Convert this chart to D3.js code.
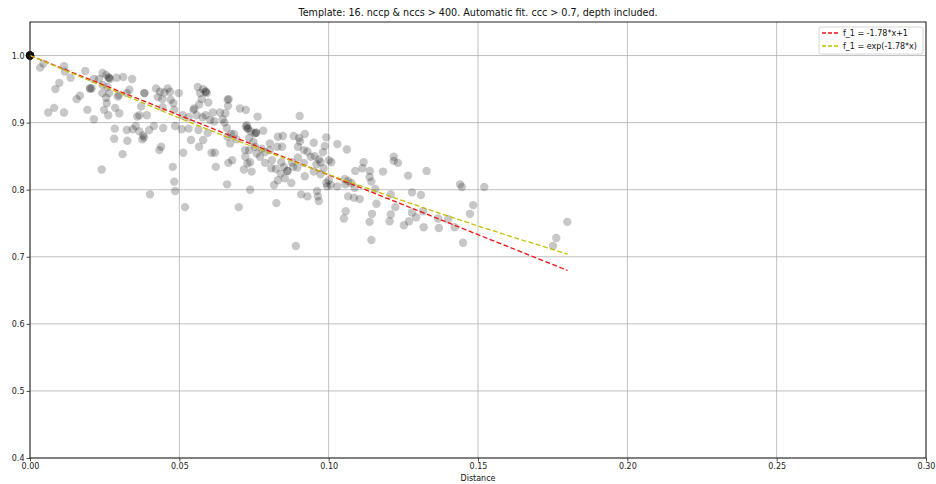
<!DOCTYPE html>
<html>
<head>
<meta charset="utf-8">
<script src="https://cdn.jsdelivr.net/npm/d3@7"></script>
<style>
  body { margin: 0; background: #fff; }
  svg { font-family: "DejaVu Sans", sans-serif; }
  .grid line { stroke: #b0b0b0; stroke-width: 0.8; }
  .tick text { fill: #222; }
</style>
</head>
<body>
<svg id="chart" width="936" height="484"></svg>
<script>
// title / labels
var title = "Template: 16. nccp & nccs > 400. Automatic fit. ccc > 0.7, depth included.";
var xLabel = "Distance";
var xTicks = [0, 0.05, 0.10, 0.15, 0.20, 0.25, 0.30];
var yTicks = [0.4, 0.5, 0.6, 0.7, 0.8, 0.9, 1.0];

// scatter points [distance, value]
var samples = [
  [0,1],[0,1],[0,1],[0,1],[0,1],[0,1],[0,1],[0,1],[0,1],[0,1],[0,1],[0,1],
  [0.0034,0.982],[0.0045,0.988],[0.0114,0.984],[0.0117,0.976],[0.0136,0.967],[0.0185,0.977],
  [0.0214,0.965],[0.0231,0.965],[0.0243,0.974],[0.0255,0.971],[0.0264,0.967],[0.0264,0.967],
  [0.0268,0.965],[0.029,0.967],[0.0312,0.968],[0.0342,0.965],[0.0085,0.950],[0.0098,0.959],
  [0.0061,0.915],[0.0081,0.922],[0.0114,0.915],[0.0167,0.940],[0.0156,0.935],[0.0192,0.919],
  [0.0214,0.905],[0.0201,0.951],[0.0201,0.951],[0.0207,0.951],[0.0243,0.956],[0.0259,0.953],
  [0.0242,0.944],[0.0265,0.944],[0.0255,0.937],[0.0257,0.929],[0.0248,0.919],[0.0262,0.911],
  [0.0285,0.922],[0.0299,0.914],[0.0294,0.939],[0.0298,0.941],[0.0333,0.949],[0.0324,0.944],
  [0.0383,0.944],[0.0383,0.944],[0.0372,0.924],[0.0359,0.909],[0.0366,0.911],[0.0391,0.911],
  [0.0354,0.895],[0.0344,0.890],[0.0324,0.889],[0.0366,0.887],[0.0379,0.881],[0.0376,0.875],
  [0.0382,0.878],[0.0399,0.889],[0.0415,0.895],[0.0284,0.891],[0.0282,0.876],[0.0326,0.873],
  [0.031,0.853],[0.024,0.830],[0.0422,0.951],[0.0428,0.938],[0.0435,0.946],[0.0443,0.935],
  [0.0461,0.951],[0.0444,0.923],[0.0439,0.864],[0.0446,0.892],[0.0433,0.859],[0.045,0.945],
  [0.0469,0.946],[0.0471,0.934],[0.0498,0.944],[0.0483,0.919],[0.048,0.929],[0.0486,0.895],
  [0.0508,0.890],[0.0478,0.834],[0.0483,0.812],[0.0486,0.798],[0.0513,0.855],[0.0511,0.911],
  [0.0531,0.891],[0.0531,0.908],[0.0547,0.919],[0.0558,0.911],[0.0539,0.874],[0.0564,0.889],
  [0.0566,0.864],[0.058,0.874],[0.055,0.921],[0.0562,0.953],[0.058,0.950],[0.0592,0.944],
  [0.0575,0.935],[0.0569,0.944],[0.0566,0.927],[0.0588,0.946],[0.0588,0.946],[0.0597,0.930],
  [0.0578,0.908],[0.0588,0.911],[0.0603,0.904],[0.0612,0.915],[0.0617,0.902],[0.0595,0.885],
  [0.0608,0.855],[0.0619,0.855],[0.0622,0.834],[0.0636,0.915],[0.0645,0.905],[0.0654,0.914],
  [0.0651,0.900],[0.0659,0.892],[0.0661,0.879],[0.0662,0.934],[0.0663,0.925],[0.0665,0.935],
  [0.0673,0.883],[0.067,0.869],[0.0677,0.844],[0.066,0.808],[0.0664,0.840],[0.0683,0.883],
  [0.0692,0.875],[0.0703,0.921],[0.0723,0.919],[0.0723,0.894],[0.0726,0.896],[0.0729,0.891],
  [0.0729,0.891],[0.0739,0.887],[0.0752,0.884],[0.0757,0.885],[0.0757,0.885],[0.0762,0.909],
  [0.0781,0.888],[0.072,0.859],[0.0721,0.849],[0.0734,0.859],[0.0737,0.841],[0.0742,0.827],
  [0.0728,0.839],[0.0716,0.830],[0.0748,0.871],[0.0734,0.877],[0.0753,0.864],[0.0759,0.854],
  [0.077,0.849],[0.0776,0.861],[0.0787,0.856],[0.0787,0.840],[0.0699,0.774],[0.0519,0.774],
  [0.0402,0.793],[0.0737,0.800],
  [0.0903,0.910],[0.083,0.879],[0.0847,0.880],[0.0883,0.880],[0.0901,0.877],[0.092,0.883],
  [0.0904,0.872],[0.0803,0.869],[0.0828,0.864],[0.0844,0.864],[0.0803,0.859],[0.0897,0.864],
  [0.0917,0.859],[0.0929,0.857],[0.095,0.870],[0.0992,0.878],[0.0987,0.865],[0.0981,0.856],
  [0.094,0.849],[0.0953,0.850],[0.0967,0.845],[0.0959,0.838],[0.0973,0.841],[0.1001,0.844],
  [0.1009,0.841],[0.0983,0.832],[0.1029,0.868],[0.1061,0.860],[0.1117,0.841],[0.1113,0.832],
  [0.1089,0.828],[0.1138,0.828],[0.1182,0.827],[0.081,0.844],[0.0841,0.841],[0.0877,0.841],
  [0.0897,0.848],[0.0917,0.840],[0.0808,0.832],[0.0823,0.831],[0.085,0.834],[0.0862,0.828],
  [0.0862,0.828],[0.0881,0.834],[0.0895,0.833],[0.0839,0.824],[0.083,0.814],[0.0817,0.807],
  [0.0853,0.817],[0.0875,0.810],[0.092,0.820],[0.095,0.827],[0.0973,0.823],[0.0992,0.810],
  [0.0995,0.805],[0.1007,0.807],[0.1029,0.805],[0.1,0.814],[0.1054,0.816],[0.1065,0.813],
  [0.1076,0.810],[0.1056,0.808],[0.1087,0.803],[0.1137,0.819],[0.1143,0.812],[0.1156,0.801],
  [0.1065,0.790],[0.1085,0.788],[0.1104,0.786],[0.116,0.779],[0.0908,0.793],[0.0929,0.790],
  [0.0961,0.798],[0.0964,0.790],[0.0967,0.783],[0.0825,0.780],[0.1057,0.768],[0.1051,0.757],
  [0.1145,0.764],[0.1137,0.752],[0.1143,0.725],[0.089,0.716],
  [0.1218,0.849],[0.1218,0.843],[0.1232,0.840],[0.1266,0.821],[0.1328,0.828],[0.1208,0.793],
  [0.1279,0.796],[0.1309,0.792],[0.144,0.808],[0.1446,0.804],[0.1521,0.804],[0.1223,0.774],
  [0.1208,0.763],[0.1204,0.753],[0.1279,0.766],[0.1293,0.759],[0.1269,0.753],[0.1252,0.747],
  [0.1316,0.768],[0.1366,0.757],[0.14,0.756],[0.1318,0.744],[0.1369,0.743],[0.1422,0.744],
  [0.1484,0.777],[0.1473,0.764],[0.145,0.721],[0.1799,0.752],[0.1762,0.728],[0.1751,0.716]
];

// fitted lines, end points / samples
var linFit = [[0, 1.0], [0.18, 0.6796]];
var expFit = [[0, 1.0], [0.03, 0.944], [0.06, 0.889], [0.09, 0.839], [0.12, 0.791], [0.15, 0.746], [0.18, 0.704]];
var legendLabels = ["f_1 = -1.78*x+1", "f_1 = exp(-1.78*x)"];
var legendColors = ["#f01010", "#c4c000"];

var svg = d3.select("#chart");
var padL = 30, padR = 926, padT = 22, padB = 458;

var x = d3.scaleLinear().domain([0, 0.3]).range([padL, padR]);
var y = d3.scaleLinear().domain([0.4, 1.05]).range([padB, padT]);

// grid
var grid = svg.append("g").attr("class", "grid");
grid.selectAll(".gx").data(xTicks).enter().append("line")
  .attr("x1", d => x(d)).attr("x2", d => x(d)).attr("y1", padT).attr("y2", padB);
grid.selectAll(".gy").data(yTicks).enter().append("line")
  .attr("x1", padL).attr("x2", padR).attr("y1", d => y(d)).attr("y2", d => y(d));

// points
svg.append("g").selectAll("circle").data(samples).enter().append("circle")
  .attr("cx", d => x(d[0])).attr("cy", d => y(d[1]))
  .attr("r", 4.2)
  .attr("fill", "#000").attr("fill-opacity", 0.22);

// fit lines
var line = d3.line().x(d => x(d[0])).y(d => y(d[1]));
svg.append("path").datum(linFit).attr("d", line)
  .attr("fill", "none").attr("stroke", legendColors[0]).attr("stroke-width", 1.3)
  .attr("stroke-dasharray", "5,2.5");
svg.append("path").datum(expFit).attr("d", d3.line().curve(d3.curveMonotoneX).x(d => x(d[0])).y(d => y(d[1])))
  .attr("fill", "none").attr("stroke", legendColors[1]).attr("stroke-width", 1.3)
  .attr("stroke-dasharray", "5,2.5");

// axes
var xAxis = d3.axisBottom(x).tickValues(xTicks).tickFormat(d3.format(".2f")).tickSize(3.5).tickPadding(2);
var yAxis = d3.axisLeft(y).tickValues(yTicks).tickFormat(d3.format(".1f")).tickSize(3.5).tickPadding(2);
var gx = svg.append("g").attr("transform", "translate(0," + padB + ")").call(xAxis);
var gy = svg.append("g").attr("transform", "translate(" + padL + ",0)").call(yAxis);
[gx, gy].forEach(function (g) {
  g.select(".domain").remove();
  g.selectAll("text").attr("font-size", 8).attr("font-family", "DejaVu Sans");
  g.selectAll("line").attr("stroke", "#222").attr("stroke-width", 0.8);
});

// frame
svg.append("rect").attr("x", padL).attr("y", padT)
  .attr("width", padR - padL).attr("height", padB - padT)
  .attr("fill", "none").attr("stroke", "#222").attr("stroke-width", 1);

// title and axis label
svg.append("text").attr("x", (padL + padR) / 2).attr("y", 16)
  .attr("text-anchor", "middle").attr("font-size", 9.6).attr("fill", "#111").text(title);
svg.append("text").attr("x", (padL + padR) / 2).attr("y", 481)
  .attr("text-anchor", "middle").attr("font-size", 8).attr("fill", "#111").text(xLabel);

// legend
var lg = svg.append("g").attr("transform", "translate(819,27)");
lg.append("rect").attr("width", 104).attr("height", 27).attr("rx", 2)
  .attr("fill", "#fff").attr("fill-opacity", 0.8).attr("stroke", "#ccc").attr("stroke-width", 0.8);
legendLabels.forEach(function (t, i) {
  var yy = 6 + i * 13;
  lg.append("line").attr("x1", 3).attr("x2", 19).attr("y1", yy).attr("y2", yy)
    .attr("stroke", legendColors[i]).attr("stroke-width", 1.3).attr("stroke-dasharray", "4,2");
  lg.append("text").attr("x", 24).attr("y", yy + 3).attr("font-size", 8).attr("fill", "#111").text(t);
});
</script>
</body>
</html>
